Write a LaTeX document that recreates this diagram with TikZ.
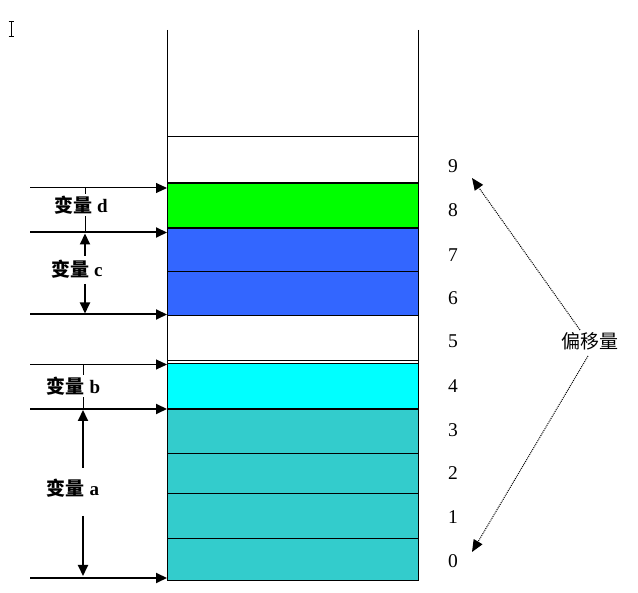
\documentclass[tikz,border=0pt]{standalone}
\usepackage{fontspec}
\setmainfont{Liberation Serif}
\newfontfamily\cjk{Noto Sans CJK SC}
\usetikzlibrary{arrows.meta}
\definecolor{cgreen}{RGB}{0,255,0}
\definecolor{cblue}{RGB}{51,102,255}
\definecolor{ccyan}{RGB}{0,255,255}
\definecolor{cteal}{RGB}{51,204,204}
\tikzset{
  thinln/.style={line width=1pt},
  thickln/.style={line width=2pt},
  tip/.style={-{Triangle[length=11pt,width=10pt]}},
  varlbl/.style={font=\fontsize{19}{19}\selectfont\bfseries, fill=white, inner sep=1.5pt},
  numlbl/.style={font=\fontsize{19.5}{19.5}\selectfont, inner sep=0pt},
  offlbl/.style={font=\fontsize{19}{19}\selectfont\cjk, inner sep=1pt},
  dotarrow/.style={line width=1pt, dash pattern=on 1pt off 1pt, -{Triangle[length=12pt,width=10pt]}},
}
\begin{document}
\begin{tikzpicture}[x=1pt,y=-1pt]
\useasboundingbox (0,0) rectangle (638,593);
% cells
\fill[cgreen] (167,183) rectangle (418,228);
\fill[cblue] (167,228) rectangle (418,316);
\fill[ccyan] (167,363) rectangle (418,409);
\fill[cteal] (167,409) rectangle (418,581);
% column
\coordinate (TL) at (167,30);
\coordinate (TR) at (418,30);
\coordinate (BL) at (167,581);
\coordinate (BR) at (418,581);
\draw[thinln] (TL) -- (BL);
\draw[thinln] (TR) -- (BR);
\foreach \y in {137,272,316,361,363.5,454,494,539,580.5}{
  \draw[thinln] (167,\y) -- (418,\y);
}
\foreach \y in {183,228,409}{
  \draw[thickln] (167,\y) -- (418,\y);
}
% named end points of left arrows
\coordinate (dA) at (30,188);   \coordinate (dB) at (167,188);
\coordinate (cA) at (30,232.5); \coordinate (cB) at (167,232.5);
\coordinate (eA) at (30,314.5); \coordinate (eB) at (167,314.5);
\coordinate (bA) at (30,364.5); \coordinate (bB) at (167,364.5);
\coordinate (aA) at (30,409);   \coordinate (aB) at (167,409);
\coordinate (zA) at (30,578);   \coordinate (zB) at (167,578);
\draw[thinln,tip] (dA) -- (dB);
\draw[thickln,tip] (cA) -- (cB);
\draw[thickln,tip] (eA) -- (eB);
\draw[thinln,tip] (bA) -- (bB);
\draw[thickln,tip] (aA) -- (aB);
\draw[thickln,tip] (zA) -- (zB);
% vertical markers
\coordinate (dv1) at (85,188);  \coordinate (dv2) at (85,232.5);
\draw[thinln] (dv1) -- (dv2);
\coordinate (bv1) at (83,364.5); \coordinate (bv2) at (83,409);
\draw[thinln] (bv1) -- (bv2);
\coordinate (cu) at (85,256); \coordinate (cut) at (85,233.5);
\coordinate (cd) at (85,284); \coordinate (cdt) at (85,313.5);
\draw[thickln,tip] (cu) -- (cut);
\draw[thickln,tip] (cd) -- (cdt);
\coordinate (au) at (83,468); \coordinate (aut) at (83,410);
\coordinate (ad) at (83,516); \coordinate (adt) at (83,576);
\draw[thickln,tip] (au) -- (aut);
\draw[thickln,tip] (ad) -- (adt);
% labels
\node[varlbl] (ld) at (81,205) {{\cjk 变量} d};
\node[varlbl,fill=none] (lc) at (77,269) {{\cjk 变量} c};
\node[varlbl] (lb) at (73.5,386) {{\cjk 变量} b};
\node[varlbl,fill=none] (la) at (73,488) {{\cjk 变量} a};
% offset numbers
\foreach \n/\y in {9/166,8/210,7/255,6/298,5/341,4/386,3/430,2/473,1/517,0/561}{
  \node[numlbl] (n\n) at (453,\y) {\n};
}
% offset label and dotted arrows
\node[offlbl] (off) at (590,341) {偏移量};
\coordinate (o1) at (580,330); \coordinate (t9) at (472,178);
\coordinate (o2) at (588,356); \coordinate (t0) at (472,552);
\draw[dotarrow] (o1) -- (t9);
\draw[dotarrow] (o2) -- (t0);
% text cursor glyph
\coordinate (cur1) at (11,21); \coordinate (cur2) at (11,36);
\draw[line width=0.9pt] (cur1) -- (cur2);
\draw[line width=0.9pt] (8.5,21) -- (13.5,21);
\draw[line width=0.9pt] (8.5,36) -- (13.5,36);
\end{tikzpicture}
\end{document}
